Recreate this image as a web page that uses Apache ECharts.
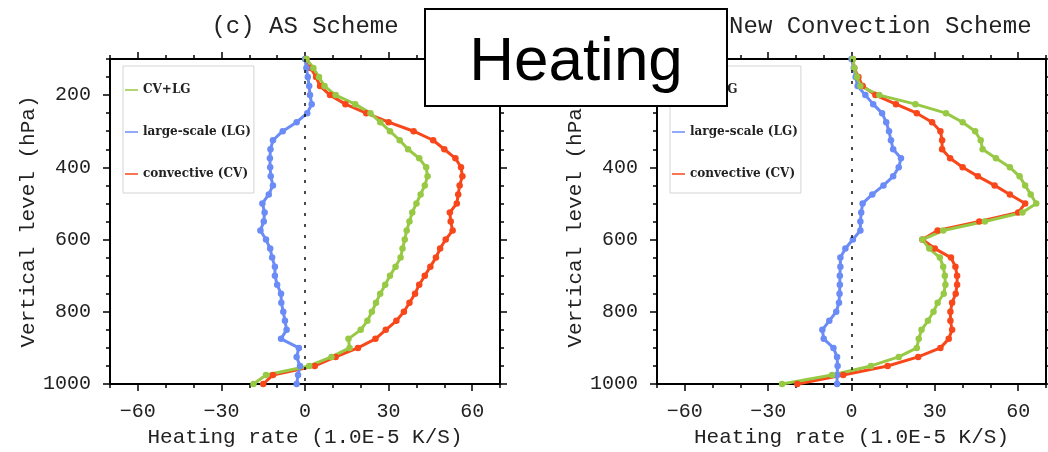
<!DOCTYPE html>
<html>
<head>
<meta charset="utf-8">
<title>Heating</title>
<script src="https://cdn.jsdelivr.net/npm/echarts@6/dist/echarts.min.js"></script>
<style>
  html, body { margin: 0; padding: 0; background: #fff; }
  #main { width: 1048px; height: 452px; }
</style>
</head>
<body>
<div id="main"></div>
<script>
// pressure levels (hPa) shared by all profiles
var levels = [100, 125, 150, 175, 200, 225, 250, 275, 300, 325, 350, 375, 400,
  425, 450, 475, 500, 525, 550, 575, 600, 625, 650, 675, 700, 725, 750, 775,
  800, 825, 850, 875, 900, 925, 950, 975, 1000];

// (c) AS scheme, heating rate (1.0E-5 K/S)
var asTotal = [0.5, 3, 5, 7, 11, 18, 23.5, 27, 30.5, 34, 37, 41, 43.5, 44, 43, 41.5,
  40, 38.5, 37.5, 36.5, 35.8, 35, 34.3, 32.5, 30.5, 28.8, 27, 25.5, 24, 22.4, 20,
  15.6, 16, 9.5, 1.5, -14, -18.5];
var asLG = [0, 0.5, 1, 1.5, 1.8, 2.4, 0.8, -3, -8, -11.5, -12.4, -12.6, -12.5, -12.3,
  -11.5, -13, -15.3, -14.5, -14.8, -16, -14, -12.5, -11.8, -10.8, -10.8, -10, -8.6,
  -8.5, -7.8, -7.2, -6.6, -8.6, -2.2, -3, -1.8, -2.5, -3];
var asCV = [0.5, 2, 4, 5.4, 9, 14.5, 22, 30, 39, 46, 50, 54, 56, 56.5, 55.5, 55, 54.5,
  52, 52.3, 53, 50.5, 48.5, 47, 45, 43, 41, 39.5, 37.5, 35.5, 32.8, 29, 25.3, 19, 11,
  3.5, -11.5, -15];

// (d) new convection scheme
var newTotal = [0.5, 1, 2, 3.2, 10, 23, 34, 40, 44.5, 46.5, 47.2, 52, 57, 60.5, 62.5,
  64.5, 66.5, 61.5, 48, 33, 25.5, 28, 31.8, 33, 33.6, 33.8, 33.2, 31, 29.5, 27.5,
  25.2, 24.2, 23.5, 17, 7, -7, -25];
var newLG = [0, 0.8, 1.5, 2.2, 5, 7.8, 11, 12.5, 13.5, 14.2, 15, 17.8, 17, 15, 11.5,
  7.5, 4, 3.5, 3.2, 3.2, 0.5, -2.2, -4, -4, -4.2, -4.2, -4.3, -4.5, -5.5, -8, -10.5,
  -10, -6.5, -5.2, -5, -5.2, -5.2];
var newCV = [0.5, 1, 2.5, 4, 8.6, 16, 23.5, 29, 32, 32.6, 32.6, 35.5, 40, 45.5, 51.5,
  57, 62.5, 60, 46, 31, 25.5, 30, 35.8, 37.4, 38, 38, 37.5, 36.2, 35.6, 35.6, 36.2,
  35, 32, 24, 13, -3, -19.5];

var xMajor = [-60, -30, 0, 30, 60];
var yMajor = [200, 400, 600, 800, 1000];
var names = ['CV+LG', 'large-scale (LG)', 'convective (CV)'];
var colors = ['#97c945', '#6b8cf6', '#f8471b'];
var panels = [
  { title: '(c) AS Scheme', total: asTotal, lg: asLG, cv: asCV },
  { title: '(d) New Convection Scheme', total: newTotal, lg: newLG, cv: newCV }
];

var font = 'Liberation Mono';
var grids = [
  { left: 110, top: 59, width: 390, height: 325, outerBoundsMode: 'none' },
  { left: 657, top: 59, width: 389, height: 325, outerBoundsMode: 'none' }
];
var yNameGaps = [60, 63];
var legendLeft = [123, 670];

function minus(v) {
  return v < 0 ? '\u2212' + Math.abs(v) : String(v);
}

var frameLine = { onZero: false, lineStyle: { color: '#000', width: 2 } };
var noLine = { show: false, onZero: false };
var tickStyle = { color: '#000', width: 1.5 };
var xAxes = [], yAxes = [], series = [];

panels.forEach(function (p, g) {
  // x axes: minor ticks + frame, then major ticks/labels, bottom and top
  ['bottom', 'top'].forEach(function (pos) {
    xAxes.push({
      gridIndex: g, type: 'value', position: pos, min: -70, max: 70, interval: 10,
      axisLine: frameLine, splitLine: { show: false },
      axisTick: { length: 4, lineStyle: tickStyle }, axisLabel: { show: false }
    });
    var major = {
      gridIndex: g, type: 'value', position: pos, min: -70, max: 70,
      axisLine: noLine, splitLine: { show: false },
      axisTick: { customValues: xMajor, length: 7, lineStyle: tickStyle },
      axisLabel: { show: false }
    };
    if (pos === 'bottom') {
      major.axisLabel = {
        customValues: xMajor, formatter: minus, margin: 18,
        fontFamily: font, fontSize: 20, color: '#222'
      };
      major.name = 'Heating rate (1.0E-5 K/S)';
      major.nameGap = 42;
    } else {
      major.name = p.title;
      major.nameGap = 20;
    }
    major.nameLocation = 'middle';
    major.nameTextStyle = { fontFamily: font, fontSize: pos === 'bottom' ? 21 : 24, color: '#222' };
    xAxes.push(major);
  });

  // y axes (pressure, inverted): minor every 50 hPa, major every 200 hPa
  ['left', 'right'].forEach(function (pos) {
    yAxes.push({
      gridIndex: g, type: 'value', position: pos, inverse: true, min: 100, max: 1000,
      interval: 50, axisLine: frameLine, splitLine: { show: false },
      axisTick: { length: 4, lineStyle: tickStyle }, axisLabel: { show: false }
    });
    var major = {
      gridIndex: g, type: 'value', position: pos, inverse: true, min: 100, max: 1000,
      axisLine: noLine, splitLine: { show: false },
      axisTick: { customValues: yMajor, length: 7, lineStyle: tickStyle },
      axisLabel: { show: false }
    };
    if (pos === 'left') {
      major.axisLabel = {
        customValues: yMajor, margin: 19, formatter: function (v) { return String(v); },
        fontFamily: font, fontSize: 20, color: '#222'
      };
      major.name = 'Vertical level (hPa)';
      major.nameLocation = 'middle';
      major.nameGap = yNameGaps[g];
      major.nameTextStyle = { fontFamily: font, fontSize: 21, color: '#222' };
    }
    yAxes.push(major);
  });

  var profiles = [p.total, p.lg, p.cv];
  // draw convective first so the total sits on top
  [2, 1, 0].forEach(function (k) {
    var s = {
      name: names[k], type: 'line', xAxisIndex: g * 4, yAxisIndex: g * 4,
      data: levels.map(function (lev, i) { return [profiles[k][i], lev]; }),
      symbol: 'circle', symbolSize: 6.5, color: colors[k],
      lineStyle: { width: 3 }
    };
    if (k === 1) {
      s.markLine = {
        silent: true, symbol: ['none', 'none'], label: { show: false },
        lineStyle: { color: '#111', type: [3, 8], width: 1.5 },
        data: [{ xAxis: 0 }]
      };
    }
    series.push(s);
  });
});

var option = {
  animation: false,
  backgroundColor: '#fff',
  grid: grids,
  xAxis: xAxes,
  yAxis: yAxes,
  legend: legendLeft.map(function (l) {
    return {
      data: names, orient: 'vertical', left: l, top: 66, z: 3,
      padding: [18, 3, 13, 2], itemGap: 30, itemWidth: 13, itemHeight: 1.5,
      icon: 'rect', borderColor: '#d4d4d4', borderWidth: 1, selectedMode: false,
      textStyle: { fontFamily: 'DejaVu Serif', fontWeight: 'bold', fontSize: 12, color: '#222' }
    };
  }),
  series: series,
  graphic: [{
    type: 'group', left: 424, top: 8, z: 100,
    children: [
      { type: 'rect', z: 100, shape: { x: 0, y: 0, width: 302, height: 97 },
        style: { fill: '#fff', stroke: '#000', lineWidth: 2 } },
      { type: 'text', z: 101, x: 151, y: 54,
        style: { text: 'Heating', fontFamily: 'Liberation Sans', fontSize: 62,
          fill: '#000', align: 'center', verticalAlign: 'middle' } }
    ]
  }]
};

var myChart = echarts.init(document.getElementById('main'));
myChart.setOption(option);
</script>
</body>
</html>
